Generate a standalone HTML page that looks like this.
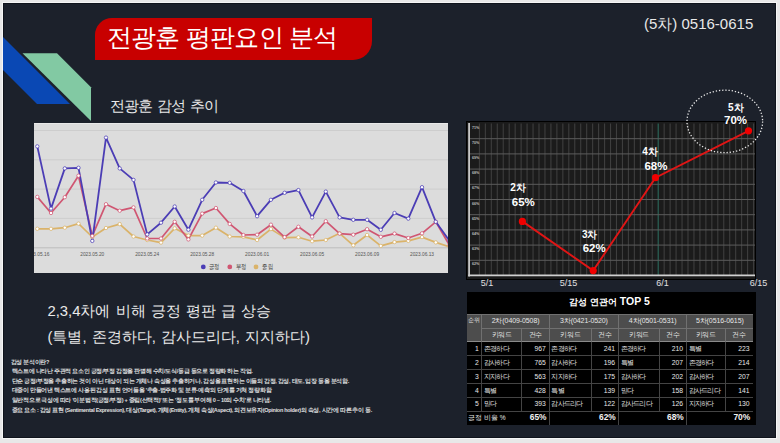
<!DOCTYPE html>
<html><head><meta charset="utf-8">
<style>
*{margin:0;padding:0}
html,body{width:780px;height:443px;overflow:hidden;background:#e8e8e8;font-family:"Liberation Sans",sans-serif}
.a{position:absolute}
#frame{position:absolute;left:3px;top:3px;width:773px;height:435px;background:#1c212b;box-shadow:0 0 0 1px #f6f6f6,inset 0 0 0 1px #10141c;overflow:hidden}
</style></head><body>
<div id="frame">
<svg class="a" style="left:-3px;top:-3px" width="780" height="443">
<polygon points="3,37 70,104 37,104 3,70" fill="#0a48b4"/>
<polygon points="22.5,53.3 57,53.3 91,87.3 91,121" fill="#82c9a3"/>
</svg>
<div class="a" style="left:91.5px;top:15px;width:277px;height:41.5px;background:#c80000;border-radius:17px 0 19px 0"></div>
<div class="a" style="left:103.5px;top:13.5px;font-size:25px;letter-spacing:-0.7px;line-height:40px;color:#fff;white-space:nowrap">전광훈 평판요인 분석</div>
<div class="a" style="left:641px;top:11.7px;font-size:15px;line-height:18px;color:#e8e8e8;white-space:nowrap">(5차) 0516-0615</div>
<div class="a" style="left:106.5px;top:94px;font-size:14.7px;letter-spacing:-0.8px;word-spacing:1.6px;line-height:18px;color:#e8e8e8;white-space:nowrap">전광훈 감성 추이</div>
<div class="a" style="left:31px;top:120px;width:413.5px;height:150px;background:#dcdcdc;overflow:hidden"><svg width="414" height="150" viewBox="0 0 414 150" style="position:absolute;left:0;top:0">
<rect x="0" y="0" width="414" height="1" fill="#e9e9e9"/><line x1="0" x2="414" y1="7.5" y2="7.5" stroke="#c9c9c9" stroke-width="0.8"/><line x1="0" x2="414" y1="36.8" y2="36.8" stroke="#c9c9c9" stroke-width="0.8"/><line x1="0" x2="414" y1="66.1" y2="66.1" stroke="#c9c9c9" stroke-width="0.8"/><line x1="0" x2="414" y1="95.4" y2="95.4" stroke="#c9c9c9" stroke-width="0.8"/><line x1="0" x2="414" y1="124.8" y2="124.8" stroke="#bdbdbd" stroke-width="1"/>
<polyline points="3.3,105.8 17.0,105.8 30.8,104.7 44.5,100.6 58.3,114.0 72.0,105.0 85.7,101.1 99.5,113.5 113.2,117.0 127.0,119.6 140.7,105.3 154.4,112.6 168.2,112.6 181.9,104.7 195.7,113.5 209.4,113.8 223.1,117.0 236.9,106.1 250.6,114.6 264.4,114.3 278.1,118.2 291.8,117.0 305.6,110.3 319.3,122.3 333.1,112.0 346.8,122.9 360.5,119.1 374.3,117.9 388.0,114.1 401.8,119.4 415.5,123.8" fill="none" stroke="#dab36a" stroke-width="1.7" stroke-linejoin="round"/>
<polyline points="3.3,73.9 17.0,90.0 30.8,74.2 44.5,52.7 58.3,112.9 72.0,81.2 85.7,87.7 99.5,84.4 113.2,115.5 127.0,115.5 140.7,98.8 154.4,116.4 168.2,90.6 181.9,85.0 195.7,100.9 209.4,112.0 223.1,111.7 236.9,101.7 250.6,114.1 264.4,103.8 278.1,113.5 291.8,98.2 305.6,110.6 319.3,111.7 333.1,106.2 346.8,113.8 360.5,110.6 374.3,115.0 388.0,110.3 401.8,98.8 415.5,122.3" fill="none" stroke="#d05672" stroke-width="1.7" stroke-linejoin="round"/>
<polyline points="3.3,23.4 17.0,85.6 30.8,45.4 44.5,44.8 58.3,117.9 72.0,14.6 85.7,45.4 99.5,56.9 113.2,111.4 127.0,99.7 140.7,83.5 154.4,106.7 168.2,76.8 181.9,59.5 195.7,59.8 209.4,68.0 223.1,93.2 236.9,76.8 250.6,69.8 264.4,67.1 278.1,94.4 291.8,68.6 305.6,94.4 319.3,96.8 333.1,96.8 346.8,106.8 360.5,90.0 374.3,95.6 388.0,64.2 401.8,98.8 415.5,117.9" fill="none" stroke="#4b3db5" stroke-width="1.8" stroke-linejoin="round"/>
<circle cx="3.3" cy="105.8" r="1.7" fill="#fff" stroke="#dab36a" stroke-width="0.75"/><circle cx="17.0" cy="105.8" r="1.7" fill="#fff" stroke="#dab36a" stroke-width="0.75"/><circle cx="30.8" cy="104.7" r="1.7" fill="#fff" stroke="#dab36a" stroke-width="0.75"/><circle cx="44.5" cy="100.6" r="1.7" fill="#fff" stroke="#dab36a" stroke-width="0.75"/><circle cx="58.3" cy="114.0" r="1.7" fill="#fff" stroke="#dab36a" stroke-width="0.75"/><circle cx="72.0" cy="105.0" r="1.7" fill="#fff" stroke="#dab36a" stroke-width="0.75"/><circle cx="85.7" cy="101.1" r="1.7" fill="#fff" stroke="#dab36a" stroke-width="0.75"/><circle cx="99.5" cy="113.5" r="1.7" fill="#fff" stroke="#dab36a" stroke-width="0.75"/><circle cx="113.2" cy="117.0" r="1.7" fill="#fff" stroke="#dab36a" stroke-width="0.75"/><circle cx="127.0" cy="119.6" r="1.7" fill="#fff" stroke="#dab36a" stroke-width="0.75"/><circle cx="140.7" cy="105.3" r="1.7" fill="#fff" stroke="#dab36a" stroke-width="0.75"/><circle cx="154.4" cy="112.6" r="1.7" fill="#fff" stroke="#dab36a" stroke-width="0.75"/><circle cx="168.2" cy="112.6" r="1.7" fill="#fff" stroke="#dab36a" stroke-width="0.75"/><circle cx="181.9" cy="104.7" r="1.7" fill="#fff" stroke="#dab36a" stroke-width="0.75"/><circle cx="195.7" cy="113.5" r="1.7" fill="#fff" stroke="#dab36a" stroke-width="0.75"/><circle cx="209.4" cy="113.8" r="1.7" fill="#fff" stroke="#dab36a" stroke-width="0.75"/><circle cx="223.1" cy="117.0" r="1.7" fill="#fff" stroke="#dab36a" stroke-width="0.75"/><circle cx="236.9" cy="106.1" r="1.7" fill="#fff" stroke="#dab36a" stroke-width="0.75"/><circle cx="250.6" cy="114.6" r="1.7" fill="#fff" stroke="#dab36a" stroke-width="0.75"/><circle cx="264.4" cy="114.3" r="1.7" fill="#fff" stroke="#dab36a" stroke-width="0.75"/><circle cx="278.1" cy="118.2" r="1.7" fill="#fff" stroke="#dab36a" stroke-width="0.75"/><circle cx="291.8" cy="117.0" r="1.7" fill="#fff" stroke="#dab36a" stroke-width="0.75"/><circle cx="305.6" cy="110.3" r="1.7" fill="#fff" stroke="#dab36a" stroke-width="0.75"/><circle cx="319.3" cy="122.3" r="1.7" fill="#fff" stroke="#dab36a" stroke-width="0.75"/><circle cx="333.1" cy="112.0" r="1.7" fill="#fff" stroke="#dab36a" stroke-width="0.75"/><circle cx="346.8" cy="122.9" r="1.7" fill="#fff" stroke="#dab36a" stroke-width="0.75"/><circle cx="360.5" cy="119.1" r="1.7" fill="#fff" stroke="#dab36a" stroke-width="0.75"/><circle cx="374.3" cy="117.9" r="1.7" fill="#fff" stroke="#dab36a" stroke-width="0.75"/><circle cx="388.0" cy="114.1" r="1.7" fill="#fff" stroke="#dab36a" stroke-width="0.75"/><circle cx="401.8" cy="119.4" r="1.7" fill="#fff" stroke="#dab36a" stroke-width="0.75"/><circle cx="415.5" cy="123.8" r="1.7" fill="#fff" stroke="#dab36a" stroke-width="0.75"/><circle cx="3.3" cy="73.9" r="1.7" fill="#fff" stroke="#d05672" stroke-width="0.75"/><circle cx="17.0" cy="90.0" r="1.7" fill="#fff" stroke="#d05672" stroke-width="0.75"/><circle cx="30.8" cy="74.2" r="1.7" fill="#fff" stroke="#d05672" stroke-width="0.75"/><circle cx="44.5" cy="52.7" r="1.7" fill="#fff" stroke="#d05672" stroke-width="0.75"/><circle cx="58.3" cy="112.9" r="1.7" fill="#fff" stroke="#d05672" stroke-width="0.75"/><circle cx="72.0" cy="81.2" r="1.7" fill="#fff" stroke="#d05672" stroke-width="0.75"/><circle cx="85.7" cy="87.7" r="1.7" fill="#fff" stroke="#d05672" stroke-width="0.75"/><circle cx="99.5" cy="84.4" r="1.7" fill="#fff" stroke="#d05672" stroke-width="0.75"/><circle cx="113.2" cy="115.5" r="1.7" fill="#fff" stroke="#d05672" stroke-width="0.75"/><circle cx="127.0" cy="115.5" r="1.7" fill="#fff" stroke="#d05672" stroke-width="0.75"/><circle cx="140.7" cy="98.8" r="1.7" fill="#fff" stroke="#d05672" stroke-width="0.75"/><circle cx="154.4" cy="116.4" r="1.7" fill="#fff" stroke="#d05672" stroke-width="0.75"/><circle cx="168.2" cy="90.6" r="1.7" fill="#fff" stroke="#d05672" stroke-width="0.75"/><circle cx="181.9" cy="85.0" r="1.7" fill="#fff" stroke="#d05672" stroke-width="0.75"/><circle cx="195.7" cy="100.9" r="1.7" fill="#fff" stroke="#d05672" stroke-width="0.75"/><circle cx="209.4" cy="112.0" r="1.7" fill="#fff" stroke="#d05672" stroke-width="0.75"/><circle cx="223.1" cy="111.7" r="1.7" fill="#fff" stroke="#d05672" stroke-width="0.75"/><circle cx="236.9" cy="101.7" r="1.7" fill="#fff" stroke="#d05672" stroke-width="0.75"/><circle cx="250.6" cy="114.1" r="1.7" fill="#fff" stroke="#d05672" stroke-width="0.75"/><circle cx="264.4" cy="103.8" r="1.7" fill="#fff" stroke="#d05672" stroke-width="0.75"/><circle cx="278.1" cy="113.5" r="1.7" fill="#fff" stroke="#d05672" stroke-width="0.75"/><circle cx="291.8" cy="98.2" r="1.7" fill="#fff" stroke="#d05672" stroke-width="0.75"/><circle cx="305.6" cy="110.6" r="1.7" fill="#fff" stroke="#d05672" stroke-width="0.75"/><circle cx="319.3" cy="111.7" r="1.7" fill="#fff" stroke="#d05672" stroke-width="0.75"/><circle cx="333.1" cy="106.2" r="1.7" fill="#fff" stroke="#d05672" stroke-width="0.75"/><circle cx="346.8" cy="113.8" r="1.7" fill="#fff" stroke="#d05672" stroke-width="0.75"/><circle cx="360.5" cy="110.6" r="1.7" fill="#fff" stroke="#d05672" stroke-width="0.75"/><circle cx="374.3" cy="115.0" r="1.7" fill="#fff" stroke="#d05672" stroke-width="0.75"/><circle cx="388.0" cy="110.3" r="1.7" fill="#fff" stroke="#d05672" stroke-width="0.75"/><circle cx="401.8" cy="98.8" r="1.7" fill="#fff" stroke="#d05672" stroke-width="0.75"/><circle cx="415.5" cy="122.3" r="1.7" fill="#fff" stroke="#d05672" stroke-width="0.75"/><circle cx="3.3" cy="23.4" r="1.7" fill="#fff" stroke="#4b3db5" stroke-width="0.75"/><circle cx="17.0" cy="85.6" r="1.7" fill="#fff" stroke="#4b3db5" stroke-width="0.75"/><circle cx="30.8" cy="45.4" r="1.7" fill="#fff" stroke="#4b3db5" stroke-width="0.75"/><circle cx="44.5" cy="44.8" r="1.7" fill="#fff" stroke="#4b3db5" stroke-width="0.75"/><circle cx="58.3" cy="117.9" r="1.7" fill="#fff" stroke="#4b3db5" stroke-width="0.75"/><circle cx="72.0" cy="14.6" r="1.7" fill="#fff" stroke="#4b3db5" stroke-width="0.75"/><circle cx="85.7" cy="45.4" r="1.7" fill="#fff" stroke="#4b3db5" stroke-width="0.75"/><circle cx="99.5" cy="56.9" r="1.7" fill="#fff" stroke="#4b3db5" stroke-width="0.75"/><circle cx="113.2" cy="111.4" r="1.7" fill="#fff" stroke="#4b3db5" stroke-width="0.75"/><circle cx="127.0" cy="99.7" r="1.7" fill="#fff" stroke="#4b3db5" stroke-width="0.75"/><circle cx="140.7" cy="83.5" r="1.7" fill="#fff" stroke="#4b3db5" stroke-width="0.75"/><circle cx="154.4" cy="106.7" r="1.7" fill="#fff" stroke="#4b3db5" stroke-width="0.75"/><circle cx="168.2" cy="76.8" r="1.7" fill="#fff" stroke="#4b3db5" stroke-width="0.75"/><circle cx="181.9" cy="59.5" r="1.7" fill="#fff" stroke="#4b3db5" stroke-width="0.75"/><circle cx="195.7" cy="59.8" r="1.7" fill="#fff" stroke="#4b3db5" stroke-width="0.75"/><circle cx="209.4" cy="68.0" r="1.7" fill="#fff" stroke="#4b3db5" stroke-width="0.75"/><circle cx="223.1" cy="93.2" r="1.7" fill="#fff" stroke="#4b3db5" stroke-width="0.75"/><circle cx="236.9" cy="76.8" r="1.7" fill="#fff" stroke="#4b3db5" stroke-width="0.75"/><circle cx="250.6" cy="69.8" r="1.7" fill="#fff" stroke="#4b3db5" stroke-width="0.75"/><circle cx="264.4" cy="67.1" r="1.7" fill="#fff" stroke="#4b3db5" stroke-width="0.75"/><circle cx="278.1" cy="94.4" r="1.7" fill="#fff" stroke="#4b3db5" stroke-width="0.75"/><circle cx="291.8" cy="68.6" r="1.7" fill="#fff" stroke="#4b3db5" stroke-width="0.75"/><circle cx="305.6" cy="94.4" r="1.7" fill="#fff" stroke="#4b3db5" stroke-width="0.75"/><circle cx="319.3" cy="96.8" r="1.7" fill="#fff" stroke="#4b3db5" stroke-width="0.75"/><circle cx="333.1" cy="96.8" r="1.7" fill="#fff" stroke="#4b3db5" stroke-width="0.75"/><circle cx="346.8" cy="106.8" r="1.7" fill="#fff" stroke="#4b3db5" stroke-width="0.75"/><circle cx="360.5" cy="90.0" r="1.7" fill="#fff" stroke="#4b3db5" stroke-width="0.75"/><circle cx="374.3" cy="95.6" r="1.7" fill="#fff" stroke="#4b3db5" stroke-width="0.75"/><circle cx="388.0" cy="64.2" r="1.7" fill="#fff" stroke="#4b3db5" stroke-width="0.75"/><circle cx="401.8" cy="98.8" r="1.7" fill="#fff" stroke="#4b3db5" stroke-width="0.75"/><circle cx="415.5" cy="117.9" r="1.7" fill="#fff" stroke="#4b3db5" stroke-width="0.75"/>
<text x="3.3" y="133.2" text-anchor="middle" font-size="4.8" fill="#555">2023.05.16</text><text x="58.3" y="133.2" text-anchor="middle" font-size="4.8" fill="#555">2023.05.20</text><text x="113.2" y="133.2" text-anchor="middle" font-size="4.8" fill="#555">2023.05.24</text><text x="168.2" y="133.2" text-anchor="middle" font-size="4.8" fill="#555">2023.05.28</text><text x="223.1" y="133.2" text-anchor="middle" font-size="4.8" fill="#555">2023.06.01</text><text x="278.1" y="133.2" text-anchor="middle" font-size="4.8" fill="#555">2023.06.05</text><text x="333.1" y="133.2" text-anchor="middle" font-size="4.8" fill="#555">2023.06.09</text><text x="388.0" y="133.2" text-anchor="middle" font-size="4.8" fill="#555">2023.06.13</text><circle cx="169.3" cy="143.89999999999998" r="2.4" fill="#4b3db5"/><text x="175" y="146.2" font-size="6.6" fill="#3a3a3a" textLength="10.6" lengthAdjust="spacingAndGlyphs">긍정</text><circle cx="195.8" cy="143.89999999999998" r="2.4" fill="#d05672"/><text x="201.6" y="146.2" font-size="6.6" fill="#3a3a3a" textLength="10.6" lengthAdjust="spacingAndGlyphs">부정</text><circle cx="222" cy="143.89999999999998" r="2.4" fill="#dab36a"/><text x="228.3" y="146.2" font-size="6.6" fill="#3a3a3a" textLength="10.6" lengthAdjust="spacingAndGlyphs">중립</text>
</svg></div>
<div class="a" style="left:464px;top:118.5px;width:287.5px;height:157px;background:#1b1b1b;box-shadow:0 0 0 1px #000;overflow:visible"><svg width="287.5" height="157" viewBox="0 0 287.5 157" style="position:absolute;left:0;top:0">
<line x1="12.40" x2="12.40" y1="1.5" y2="153.5" stroke="#3e3e3e" stroke-width="1.1"/><line x1="18.36" x2="18.36" y1="1.5" y2="153.5" stroke="#3e3e3e" stroke-width="1.1"/><line x1="24.32" x2="24.32" y1="1.5" y2="153.5" stroke="#3e3e3e" stroke-width="1.1"/><line x1="30.28" x2="30.28" y1="1.5" y2="153.5" stroke="#3e3e3e" stroke-width="1.1"/><line x1="36.24" x2="36.24" y1="1.5" y2="153.5" stroke="#3e3e3e" stroke-width="1.1"/><line x1="42.20" x2="42.20" y1="1.5" y2="153.5" stroke="#3e3e3e" stroke-width="1.1"/><line x1="48.16" x2="48.16" y1="1.5" y2="153.5" stroke="#3e3e3e" stroke-width="1.1"/><line x1="54.12" x2="54.12" y1="1.5" y2="153.5" stroke="#3e3e3e" stroke-width="1.1"/><line x1="60.08" x2="60.08" y1="1.5" y2="153.5" stroke="#3e3e3e" stroke-width="1.1"/><line x1="66.04" x2="66.04" y1="1.5" y2="153.5" stroke="#3e3e3e" stroke-width="1.1"/><line x1="72.00" x2="72.00" y1="1.5" y2="153.5" stroke="#3e3e3e" stroke-width="1.1"/><line x1="77.96" x2="77.96" y1="1.5" y2="153.5" stroke="#3e3e3e" stroke-width="1.1"/><line x1="83.92" x2="83.92" y1="1.5" y2="153.5" stroke="#3e3e3e" stroke-width="1.1"/><line x1="89.88" x2="89.88" y1="1.5" y2="153.5" stroke="#3e3e3e" stroke-width="1.1"/><line x1="95.84" x2="95.84" y1="1.5" y2="153.5" stroke="#3e3e3e" stroke-width="1.1"/><line x1="101.80" x2="101.80" y1="1.5" y2="153.5" stroke="#3e3e3e" stroke-width="1.1"/><line x1="107.76" x2="107.76" y1="1.5" y2="153.5" stroke="#3e3e3e" stroke-width="1.1"/><line x1="113.72" x2="113.72" y1="1.5" y2="153.5" stroke="#3e3e3e" stroke-width="1.1"/><line x1="119.68" x2="119.68" y1="1.5" y2="153.5" stroke="#3e3e3e" stroke-width="1.1"/><line x1="125.64" x2="125.64" y1="1.5" y2="153.5" stroke="#3e3e3e" stroke-width="1.1"/><line x1="131.60" x2="131.60" y1="1.5" y2="153.5" stroke="#3e3e3e" stroke-width="1.1"/><line x1="137.56" x2="137.56" y1="1.5" y2="153.5" stroke="#3e3e3e" stroke-width="1.1"/><line x1="143.52" x2="143.52" y1="1.5" y2="153.5" stroke="#3e3e3e" stroke-width="1.1"/><line x1="149.48" x2="149.48" y1="1.5" y2="153.5" stroke="#3e3e3e" stroke-width="1.1"/><line x1="155.44" x2="155.44" y1="1.5" y2="153.5" stroke="#3e3e3e" stroke-width="1.1"/><line x1="161.40" x2="161.40" y1="1.5" y2="153.5" stroke="#3e3e3e" stroke-width="1.1"/><line x1="167.36" x2="167.36" y1="1.5" y2="153.5" stroke="#3e3e3e" stroke-width="1.1"/><line x1="173.32" x2="173.32" y1="1.5" y2="153.5" stroke="#3e3e3e" stroke-width="1.1"/><line x1="179.28" x2="179.28" y1="1.5" y2="153.5" stroke="#3e3e3e" stroke-width="1.1"/><line x1="185.24" x2="185.24" y1="1.5" y2="153.5" stroke="#3e3e3e" stroke-width="1.1"/><line x1="191.20" x2="191.20" y1="1.5" y2="153.5" stroke="#2c6a5c" stroke-width="1.1"/><line x1="197.16" x2="197.16" y1="1.5" y2="153.5" stroke="#3e3e3e" stroke-width="1.1"/><line x1="203.12" x2="203.12" y1="1.5" y2="153.5" stroke="#3e3e3e" stroke-width="1.1"/><line x1="209.08" x2="209.08" y1="1.5" y2="153.5" stroke="#3e3e3e" stroke-width="1.1"/><line x1="215.04" x2="215.04" y1="1.5" y2="153.5" stroke="#3e3e3e" stroke-width="1.1"/><line x1="221.00" x2="221.00" y1="1.5" y2="153.5" stroke="#3e3e3e" stroke-width="1.1"/><line x1="226.96" x2="226.96" y1="1.5" y2="153.5" stroke="#3e3e3e" stroke-width="1.1"/><line x1="232.92" x2="232.92" y1="1.5" y2="153.5" stroke="#3e3e3e" stroke-width="1.1"/><line x1="238.88" x2="238.88" y1="1.5" y2="153.5" stroke="#3e3e3e" stroke-width="1.1"/><line x1="244.84" x2="244.84" y1="1.5" y2="153.5" stroke="#3e3e3e" stroke-width="1.1"/><line x1="250.80" x2="250.80" y1="1.5" y2="153.5" stroke="#3e3e3e" stroke-width="1.1"/><line x1="256.76" x2="256.76" y1="1.5" y2="153.5" stroke="#3e3e3e" stroke-width="1.1"/><line x1="262.72" x2="262.72" y1="1.5" y2="153.5" stroke="#3e3e3e" stroke-width="1.1"/><line x1="268.68" x2="268.68" y1="1.5" y2="153.5" stroke="#3e3e3e" stroke-width="1.1"/><line x1="274.64" x2="274.64" y1="1.5" y2="153.5" stroke="#3e3e3e" stroke-width="1.1"/><line x1="280.60" x2="280.60" y1="1.5" y2="153.5" stroke="#3e3e3e" stroke-width="1.1"/><line x1="286.56" x2="286.56" y1="1.5" y2="153.5" stroke="#3e3e3e" stroke-width="1.1"/><line x1="2" x2="288" y1="16.70" y2="16.70" stroke="#5c5c5c" stroke-width="1"/><line x1="2" x2="288" y1="31.90" y2="31.90" stroke="#5c5c5c" stroke-width="1"/><line x1="2" x2="288" y1="47.10" y2="47.10" stroke="#5c5c5c" stroke-width="1"/><line x1="2" x2="288" y1="62.30" y2="62.30" stroke="#5c5c5c" stroke-width="1"/><line x1="2" x2="288" y1="77.50" y2="77.50" stroke="#5c5c5c" stroke-width="1"/><line x1="2" x2="288" y1="92.70" y2="92.70" stroke="#5c5c5c" stroke-width="1"/><line x1="2" x2="288" y1="107.90" y2="107.90" stroke="#5c5c5c" stroke-width="1"/><line x1="2" x2="288" y1="123.10" y2="123.10" stroke="#5c5c5c" stroke-width="1"/><line x1="2" x2="288" y1="138.30" y2="138.30" stroke="#5c5c5c" stroke-width="1"/><text x="5" y="6.50" font-size="3.6" fill="#bbb" font-weight="bold">71%</text><text x="5" y="21.70" font-size="3.6" fill="#bbb" font-weight="bold">70%</text><text x="5" y="36.90" font-size="3.6" fill="#bbb" font-weight="bold">69%</text><text x="5" y="52.10" font-size="3.6" fill="#bbb" font-weight="bold">68%</text><text x="5" y="67.30" font-size="3.6" fill="#bbb" font-weight="bold">67%</text><text x="5" y="82.50" font-size="3.6" fill="#bbb" font-weight="bold">66%</text><text x="5" y="97.70" font-size="3.6" fill="#bbb" font-weight="bold">65%</text><text x="5" y="112.90" font-size="3.6" fill="#bbb" font-weight="bold">64%</text><text x="5" y="128.10" font-size="3.6" fill="#bbb" font-weight="bold">63%</text><text x="5" y="143.30" font-size="3.6" fill="#bbb" font-weight="bold">62%</text><line x1="2.1000000000000227" x2="2.1000000000000227" y1="1.0" y2="154.5" stroke="#c8c8c8" stroke-width="1.8"/><line x1="1.1999999999999886" x2="288" y1="153.39999999999998" y2="153.39999999999998" stroke="#d0d0d0" stroke-width="1.8"/>
<polyline points="55.4,99.4 126.2,148.6 188.5,55.7 281.5,8.8" fill="none" stroke="#e01515" stroke-width="1.9"/>
<circle cx="55.4" cy="99.4" r="3.6" fill="#f00000"/><circle cx="126.2" cy="148.6" r="3.6" fill="#f00000"/><circle cx="188.5" cy="55.7" r="3.6" fill="#f00000"/><circle cx="281.5" cy="8.8" r="3.6" fill="#f00000"/>
</svg></div>
<svg class="a" style="left:-3px;top:-3px;overflow:visible" width="780" height="443">
<ellipse cx="724.8" cy="121.4" rx="37.8" ry="31.2" fill="none" stroke="#e8e8e8" stroke-width="1.3" stroke-dasharray="1.3 1.9"/>
<g font-weight="bold" fill="#fff" text-anchor="middle">
<text x="518" y="191" font-size="10">2차</text><text x="523.3" y="206" font-size="11.5">65%</text>
<text x="589.7" y="237.5" font-size="10">3차</text><text x="594.2" y="252.3" font-size="11.5">62%</text>
<text x="650.1" y="155" font-size="10">4차</text><text x="655.9" y="170.4" font-size="11.5">68%</text>
<text x="735.8" y="110.5" font-size="10">5차</text><text x="735.6" y="123.7" font-size="11.5">70%</text>
</g>
<g fill="#e0e0e0" font-size="9" text-anchor="middle">
<text x="487" y="286.3">5/1</text><text x="568.5" y="286.3">5/15</text><text x="662.4" y="286.3">6/1</text><text x="758.6" y="286.3">6/15</text>
</g>
</svg>
<div class="a" style="left:463.5px;top:289px;width:289px;height:133px;background:#000">
<div class="a" style="left:-1.5px;top:-1px;width:289px;height:21.8px;line-height:21.8px;text-align:center;color:#fff;font-weight:bold;font-size:10.5px"><span style="font-size:9.4px">감성 연관어</span> TOP 5</div>
<div style="position:absolute;left:0.0px;top:21.8px;width:286.5px;height:28.0px;background:#4d4d4d;"></div><div style="position:absolute;left:0.0px;top:21.8px;width:286.5px;height:1.0px;background:#707070;"></div><div style="position:absolute;left:15.3px;top:36.0px;width:271.2px;height:1.0px;background:#707070;"></div><div style="position:absolute;left:0.0px;top:48.8px;width:286.5px;height:1.5px;background:#8a8a8a;"></div><div style="position:absolute;left:14.8px;top:21.8px;width:1.0px;height:28.0px;background:#707070;"></div><div style="position:absolute;left:82.3px;top:21.8px;width:1.0px;height:28.0px;background:#707070;"></div><div style="position:absolute;left:151.6px;top:21.8px;width:1.0px;height:28.0px;background:#707070;"></div><div style="position:absolute;left:219.6px;top:21.8px;width:1.0px;height:28.0px;background:#707070;"></div><div style="position:absolute;left:54.5px;top:36.0px;width:1.0px;height:13.8px;background:#707070;"></div><div style="position:absolute;left:124.2px;top:36.0px;width:1.0px;height:13.8px;background:#707070;"></div><div style="position:absolute;left:192.3px;top:36.0px;width:1.0px;height:13.8px;background:#707070;"></div><div style="position:absolute;left:258.0px;top:36.0px;width:1.0px;height:13.8px;background:#707070;"></div><div style="position:absolute;left:0.0px;top:21.8px;width:15.3px;height:12.0px;line-height:12.0px;text-align:center;font-size:6px;color:#e6e6e6;font-weight:normal;letter-spacing:0px;padding:0 0px;box-sizing:border-box;white-space:nowrap;overflow:hidden">순위</div><div style="position:absolute;left:15.3px;top:21.8px;width:67.5px;height:14.2px;line-height:14.2px;text-align:center;font-size:7px;color:#e6e6e6;font-weight:normal;letter-spacing:-0.1px;padding:0 1.5px;box-sizing:border-box;white-space:nowrap;overflow:hidden">2차(0409-0508)</div><div style="position:absolute;left:15.3px;top:36.0px;width:39.7px;height:13.8px;line-height:13.8px;text-align:center;font-size:6.8px;color:#e6e6e6;font-weight:normal;letter-spacing:-0.3px;padding:0 1.5px;box-sizing:border-box;white-space:nowrap;overflow:hidden">키워드</div><div style="position:absolute;left:55.0px;top:36.0px;width:27.8px;height:13.8px;line-height:13.8px;text-align:center;font-size:6.8px;color:#e6e6e6;font-weight:normal;letter-spacing:-0.3px;padding:0 1.5px;box-sizing:border-box;white-space:nowrap;overflow:hidden">건수</div><div style="position:absolute;left:82.8px;top:21.8px;width:69.3px;height:14.2px;line-height:14.2px;text-align:center;font-size:7px;color:#e6e6e6;font-weight:normal;letter-spacing:-0.1px;padding:0 1.5px;box-sizing:border-box;white-space:nowrap;overflow:hidden">3차(0421-0520)</div><div style="position:absolute;left:82.8px;top:36.0px;width:41.9px;height:13.8px;line-height:13.8px;text-align:center;font-size:6.8px;color:#e6e6e6;font-weight:normal;letter-spacing:-0.3px;padding:0 1.5px;box-sizing:border-box;white-space:nowrap;overflow:hidden">키워드</div><div style="position:absolute;left:124.7px;top:36.0px;width:27.4px;height:13.8px;line-height:13.8px;text-align:center;font-size:6.8px;color:#e6e6e6;font-weight:normal;letter-spacing:-0.3px;padding:0 1.5px;box-sizing:border-box;white-space:nowrap;overflow:hidden">건수</div><div style="position:absolute;left:152.1px;top:21.8px;width:68.0px;height:14.2px;line-height:14.2px;text-align:center;font-size:7px;color:#e6e6e6;font-weight:normal;letter-spacing:-0.1px;padding:0 1.5px;box-sizing:border-box;white-space:nowrap;overflow:hidden">4차(0501-0531)</div><div style="position:absolute;left:152.1px;top:36.0px;width:40.7px;height:13.8px;line-height:13.8px;text-align:center;font-size:6.8px;color:#e6e6e6;font-weight:normal;letter-spacing:-0.3px;padding:0 1.5px;box-sizing:border-box;white-space:nowrap;overflow:hidden">키워드</div><div style="position:absolute;left:192.8px;top:36.0px;width:27.3px;height:13.8px;line-height:13.8px;text-align:center;font-size:6.8px;color:#e6e6e6;font-weight:normal;letter-spacing:-0.3px;padding:0 1.5px;box-sizing:border-box;white-space:nowrap;overflow:hidden">건수</div><div style="position:absolute;left:220.1px;top:21.8px;width:66.4px;height:14.2px;line-height:14.2px;text-align:center;font-size:7px;color:#e6e6e6;font-weight:normal;letter-spacing:-0.1px;padding:0 1.5px;box-sizing:border-box;white-space:nowrap;overflow:hidden">5차(0516-0615)</div><div style="position:absolute;left:220.1px;top:36.0px;width:38.4px;height:13.8px;line-height:13.8px;text-align:center;font-size:6.8px;color:#e6e6e6;font-weight:normal;letter-spacing:-0.3px;padding:0 1.5px;box-sizing:border-box;white-space:nowrap;overflow:hidden">키워드</div><div style="position:absolute;left:258.5px;top:36.0px;width:28.0px;height:13.8px;line-height:13.8px;text-align:center;font-size:6.8px;color:#e6e6e6;font-weight:normal;letter-spacing:-0.3px;padding:0 1.5px;box-sizing:border-box;white-space:nowrap;overflow:hidden">건수</div><div style="position:absolute;left:0.0px;top:63.3px;width:286.5px;height:1.0px;background:#444;"></div><div style="position:absolute;left:0.0px;top:77.1px;width:286.5px;height:1.0px;background:#444;"></div><div style="position:absolute;left:0.0px;top:91.0px;width:286.5px;height:1.0px;background:#444;"></div><div style="position:absolute;left:0.0px;top:104.8px;width:286.5px;height:1.0px;background:#444;"></div><div style="position:absolute;left:0.0px;top:118.6px;width:286.5px;height:1.0px;background:#444;"></div><div style="position:absolute;left:14.8px;top:49.8px;width:1.0px;height:69.3px;background:#444;"></div><div style="position:absolute;left:54.5px;top:49.8px;width:1.0px;height:69.3px;background:#444;"></div><div style="position:absolute;left:82.3px;top:49.8px;width:1.0px;height:69.3px;background:#444;"></div><div style="position:absolute;left:124.2px;top:49.8px;width:1.0px;height:69.3px;background:#444;"></div><div style="position:absolute;left:151.6px;top:49.8px;width:1.0px;height:69.3px;background:#444;"></div><div style="position:absolute;left:192.3px;top:49.8px;width:1.0px;height:69.3px;background:#444;"></div><div style="position:absolute;left:219.6px;top:49.8px;width:1.0px;height:69.3px;background:#444;"></div><div style="position:absolute;left:258.0px;top:49.8px;width:1.0px;height:69.3px;background:#444;"></div><div style="position:absolute;left:82.3px;top:119.1px;width:1.0px;height:13.9px;background:#444;"></div><div style="position:absolute;left:151.6px;top:119.1px;width:1.0px;height:13.9px;background:#444;"></div><div style="position:absolute;left:219.6px;top:119.1px;width:1.0px;height:13.9px;background:#444;"></div><div style="position:absolute;left:0.0px;top:49.8px;width:15.3px;height:14.0px;line-height:14.0px;text-align:right;font-size:6.8px;color:#e6e6e6;font-weight:normal;letter-spacing:0px;padding:0 3px;box-sizing:border-box;white-space:nowrap;overflow:hidden">1</div><div style="position:absolute;left:15.3px;top:49.8px;width:39.7px;height:14.0px;line-height:14.0px;text-align:left;font-size:6.8px;color:#e6e6e6;font-weight:normal;letter-spacing:-0.7px;padding:0 2px;box-sizing:border-box;white-space:nowrap;overflow:hidden">존경하다</div><div style="position:absolute;left:55.0px;top:49.8px;width:27.8px;height:14.0px;line-height:14.0px;text-align:right;font-size:6.8px;color:#e6e6e6;font-weight:normal;letter-spacing:0px;padding:0 3.5px;box-sizing:border-box;white-space:nowrap;overflow:hidden">967</div><div style="position:absolute;left:82.8px;top:49.8px;width:41.9px;height:14.0px;line-height:14.0px;text-align:left;font-size:6.8px;color:#e6e6e6;font-weight:normal;letter-spacing:-0.7px;padding:0 2px;box-sizing:border-box;white-space:nowrap;overflow:hidden">존경하다</div><div style="position:absolute;left:124.7px;top:49.8px;width:27.4px;height:14.0px;line-height:14.0px;text-align:right;font-size:6.8px;color:#e6e6e6;font-weight:normal;letter-spacing:0px;padding:0 3.5px;box-sizing:border-box;white-space:nowrap;overflow:hidden">241</div><div style="position:absolute;left:152.1px;top:49.8px;width:40.7px;height:14.0px;line-height:14.0px;text-align:left;font-size:6.8px;color:#e6e6e6;font-weight:normal;letter-spacing:-0.7px;padding:0 2px;box-sizing:border-box;white-space:nowrap;overflow:hidden">존경하다</div><div style="position:absolute;left:192.8px;top:49.8px;width:27.3px;height:14.0px;line-height:14.0px;text-align:right;font-size:6.8px;color:#e6e6e6;font-weight:normal;letter-spacing:0px;padding:0 3.5px;box-sizing:border-box;white-space:nowrap;overflow:hidden">210</div><div style="position:absolute;left:220.1px;top:49.8px;width:38.4px;height:14.0px;line-height:14.0px;text-align:left;font-size:6.8px;color:#e6e6e6;font-weight:normal;letter-spacing:-0.7px;padding:0 2px;box-sizing:border-box;white-space:nowrap;overflow:hidden">특별</div><div style="position:absolute;left:258.5px;top:49.8px;width:28.0px;height:14.0px;line-height:14.0px;text-align:right;font-size:6.8px;color:#e6e6e6;font-weight:normal;letter-spacing:0px;padding:0 3.5px;box-sizing:border-box;white-space:nowrap;overflow:hidden">223</div><div style="position:absolute;left:0.0px;top:63.8px;width:15.3px;height:13.8px;line-height:13.8px;text-align:right;font-size:6.8px;color:#e6e6e6;font-weight:normal;letter-spacing:0px;padding:0 3px;box-sizing:border-box;white-space:nowrap;overflow:hidden">2</div><div style="position:absolute;left:15.3px;top:63.8px;width:39.7px;height:13.8px;line-height:13.8px;text-align:left;font-size:6.8px;color:#e6e6e6;font-weight:normal;letter-spacing:-0.7px;padding:0 2px;box-sizing:border-box;white-space:nowrap;overflow:hidden">감사하다</div><div style="position:absolute;left:55.0px;top:63.8px;width:27.8px;height:13.8px;line-height:13.8px;text-align:right;font-size:6.8px;color:#e6e6e6;font-weight:normal;letter-spacing:0px;padding:0 3.5px;box-sizing:border-box;white-space:nowrap;overflow:hidden">765</div><div style="position:absolute;left:82.8px;top:63.8px;width:41.9px;height:13.8px;line-height:13.8px;text-align:left;font-size:6.8px;color:#e6e6e6;font-weight:normal;letter-spacing:-0.7px;padding:0 2px;box-sizing:border-box;white-space:nowrap;overflow:hidden">감사하다</div><div style="position:absolute;left:124.7px;top:63.8px;width:27.4px;height:13.8px;line-height:13.8px;text-align:right;font-size:6.8px;color:#e6e6e6;font-weight:normal;letter-spacing:0px;padding:0 3.5px;box-sizing:border-box;white-space:nowrap;overflow:hidden">196</div><div style="position:absolute;left:152.1px;top:63.8px;width:40.7px;height:13.8px;line-height:13.8px;text-align:left;font-size:6.8px;color:#e6e6e6;font-weight:normal;letter-spacing:-0.7px;padding:0 2px;box-sizing:border-box;white-space:nowrap;overflow:hidden">특별</div><div style="position:absolute;left:192.8px;top:63.8px;width:27.3px;height:13.8px;line-height:13.8px;text-align:right;font-size:6.8px;color:#e6e6e6;font-weight:normal;letter-spacing:0px;padding:0 3.5px;box-sizing:border-box;white-space:nowrap;overflow:hidden">207</div><div style="position:absolute;left:220.1px;top:63.8px;width:38.4px;height:13.8px;line-height:13.8px;text-align:left;font-size:6.8px;color:#e6e6e6;font-weight:normal;letter-spacing:-0.7px;padding:0 2px;box-sizing:border-box;white-space:nowrap;overflow:hidden">존경하다</div><div style="position:absolute;left:258.5px;top:63.8px;width:28.0px;height:13.8px;line-height:13.8px;text-align:right;font-size:6.8px;color:#e6e6e6;font-weight:normal;letter-spacing:0px;padding:0 3.5px;box-sizing:border-box;white-space:nowrap;overflow:hidden">214</div><div style="position:absolute;left:0.0px;top:77.6px;width:15.3px;height:13.9px;line-height:13.9px;text-align:right;font-size:6.8px;color:#e6e6e6;font-weight:normal;letter-spacing:0px;padding:0 3px;box-sizing:border-box;white-space:nowrap;overflow:hidden">3</div><div style="position:absolute;left:15.3px;top:77.6px;width:39.7px;height:13.9px;line-height:13.9px;text-align:left;font-size:6.8px;color:#e6e6e6;font-weight:normal;letter-spacing:-0.7px;padding:0 2px;box-sizing:border-box;white-space:nowrap;overflow:hidden">지지하다</div><div style="position:absolute;left:55.0px;top:77.6px;width:27.8px;height:13.9px;line-height:13.9px;text-align:right;font-size:6.8px;color:#e6e6e6;font-weight:normal;letter-spacing:0px;padding:0 3.5px;box-sizing:border-box;white-space:nowrap;overflow:hidden">563</div><div style="position:absolute;left:82.8px;top:77.6px;width:41.9px;height:13.9px;line-height:13.9px;text-align:left;font-size:6.8px;color:#e6e6e6;font-weight:normal;letter-spacing:-0.7px;padding:0 2px;box-sizing:border-box;white-space:nowrap;overflow:hidden">지지하다</div><div style="position:absolute;left:124.7px;top:77.6px;width:27.4px;height:13.9px;line-height:13.9px;text-align:right;font-size:6.8px;color:#e6e6e6;font-weight:normal;letter-spacing:0px;padding:0 3.5px;box-sizing:border-box;white-space:nowrap;overflow:hidden">175</div><div style="position:absolute;left:152.1px;top:77.6px;width:40.7px;height:13.9px;line-height:13.9px;text-align:left;font-size:6.8px;color:#e6e6e6;font-weight:normal;letter-spacing:-0.7px;padding:0 2px;box-sizing:border-box;white-space:nowrap;overflow:hidden">감사하다</div><div style="position:absolute;left:192.8px;top:77.6px;width:27.3px;height:13.9px;line-height:13.9px;text-align:right;font-size:6.8px;color:#e6e6e6;font-weight:normal;letter-spacing:0px;padding:0 3.5px;box-sizing:border-box;white-space:nowrap;overflow:hidden">202</div><div style="position:absolute;left:220.1px;top:77.6px;width:38.4px;height:13.9px;line-height:13.9px;text-align:left;font-size:6.8px;color:#e6e6e6;font-weight:normal;letter-spacing:-0.7px;padding:0 2px;box-sizing:border-box;white-space:nowrap;overflow:hidden">감사하다</div><div style="position:absolute;left:258.5px;top:77.6px;width:28.0px;height:13.9px;line-height:13.9px;text-align:right;font-size:6.8px;color:#e6e6e6;font-weight:normal;letter-spacing:0px;padding:0 3.5px;box-sizing:border-box;white-space:nowrap;overflow:hidden">207</div><div style="position:absolute;left:0.0px;top:91.5px;width:15.3px;height:13.8px;line-height:13.8px;text-align:right;font-size:6.8px;color:#e6e6e6;font-weight:normal;letter-spacing:0px;padding:0 3px;box-sizing:border-box;white-space:nowrap;overflow:hidden">4</div><div style="position:absolute;left:15.3px;top:91.5px;width:39.7px;height:13.8px;line-height:13.8px;text-align:left;font-size:6.8px;color:#e6e6e6;font-weight:normal;letter-spacing:-0.7px;padding:0 2px;box-sizing:border-box;white-space:nowrap;overflow:hidden">특별</div><div style="position:absolute;left:55.0px;top:91.5px;width:27.8px;height:13.8px;line-height:13.8px;text-align:right;font-size:6.8px;color:#e6e6e6;font-weight:normal;letter-spacing:0px;padding:0 3.5px;box-sizing:border-box;white-space:nowrap;overflow:hidden">428</div><div style="position:absolute;left:82.8px;top:91.5px;width:41.9px;height:13.8px;line-height:13.8px;text-align:left;font-size:6.8px;color:#e6e6e6;font-weight:normal;letter-spacing:-0.7px;padding:0 2px;box-sizing:border-box;white-space:nowrap;overflow:hidden">특별</div><div style="position:absolute;left:124.7px;top:91.5px;width:27.4px;height:13.8px;line-height:13.8px;text-align:right;font-size:6.8px;color:#e6e6e6;font-weight:normal;letter-spacing:0px;padding:0 3.5px;box-sizing:border-box;white-space:nowrap;overflow:hidden">139</div><div style="position:absolute;left:152.1px;top:91.5px;width:40.7px;height:13.8px;line-height:13.8px;text-align:left;font-size:6.8px;color:#e6e6e6;font-weight:normal;letter-spacing:-0.7px;padding:0 2px;box-sizing:border-box;white-space:nowrap;overflow:hidden">믿다</div><div style="position:absolute;left:192.8px;top:91.5px;width:27.3px;height:13.8px;line-height:13.8px;text-align:right;font-size:6.8px;color:#e6e6e6;font-weight:normal;letter-spacing:0px;padding:0 3.5px;box-sizing:border-box;white-space:nowrap;overflow:hidden">158</div><div style="position:absolute;left:220.1px;top:91.5px;width:38.4px;height:13.8px;line-height:13.8px;text-align:left;font-size:6.8px;color:#e6e6e6;font-weight:normal;letter-spacing:-0.7px;padding:0 2px;box-sizing:border-box;white-space:nowrap;overflow:hidden">감사드리다</div><div style="position:absolute;left:258.5px;top:91.5px;width:28.0px;height:13.8px;line-height:13.8px;text-align:right;font-size:6.8px;color:#e6e6e6;font-weight:normal;letter-spacing:0px;padding:0 3.5px;box-sizing:border-box;white-space:nowrap;overflow:hidden">141</div><div style="position:absolute;left:0.0px;top:105.3px;width:15.3px;height:13.8px;line-height:13.8px;text-align:right;font-size:6.8px;color:#e6e6e6;font-weight:normal;letter-spacing:0px;padding:0 3px;box-sizing:border-box;white-space:nowrap;overflow:hidden">5</div><div style="position:absolute;left:15.3px;top:105.3px;width:39.7px;height:13.8px;line-height:13.8px;text-align:left;font-size:6.8px;color:#e6e6e6;font-weight:normal;letter-spacing:-0.7px;padding:0 2px;box-sizing:border-box;white-space:nowrap;overflow:hidden">믿다</div><div style="position:absolute;left:55.0px;top:105.3px;width:27.8px;height:13.8px;line-height:13.8px;text-align:right;font-size:6.8px;color:#e6e6e6;font-weight:normal;letter-spacing:0px;padding:0 3.5px;box-sizing:border-box;white-space:nowrap;overflow:hidden">393</div><div style="position:absolute;left:82.8px;top:105.3px;width:41.9px;height:13.8px;line-height:13.8px;text-align:left;font-size:6.8px;color:#e6e6e6;font-weight:normal;letter-spacing:-0.7px;padding:0 2px;box-sizing:border-box;white-space:nowrap;overflow:hidden">감사드리다</div><div style="position:absolute;left:124.7px;top:105.3px;width:27.4px;height:13.8px;line-height:13.8px;text-align:right;font-size:6.8px;color:#e6e6e6;font-weight:normal;letter-spacing:0px;padding:0 3.5px;box-sizing:border-box;white-space:nowrap;overflow:hidden">122</div><div style="position:absolute;left:152.1px;top:105.3px;width:40.7px;height:13.8px;line-height:13.8px;text-align:left;font-size:6.8px;color:#e6e6e6;font-weight:normal;letter-spacing:-0.7px;padding:0 2px;box-sizing:border-box;white-space:nowrap;overflow:hidden">감사드리다</div><div style="position:absolute;left:192.8px;top:105.3px;width:27.3px;height:13.8px;line-height:13.8px;text-align:right;font-size:6.8px;color:#e6e6e6;font-weight:normal;letter-spacing:0px;padding:0 3.5px;box-sizing:border-box;white-space:nowrap;overflow:hidden">126</div><div style="position:absolute;left:220.1px;top:105.3px;width:38.4px;height:13.8px;line-height:13.8px;text-align:left;font-size:6.8px;color:#e6e6e6;font-weight:normal;letter-spacing:-0.7px;padding:0 2px;box-sizing:border-box;white-space:nowrap;overflow:hidden">지지하다</div><div style="position:absolute;left:258.5px;top:105.3px;width:28.0px;height:13.8px;line-height:13.8px;text-align:right;font-size:6.8px;color:#e6e6e6;font-weight:normal;letter-spacing:0px;padding:0 3.5px;box-sizing:border-box;white-space:nowrap;overflow:hidden">130</div><div style="position:absolute;left:0.0px;top:119.1px;width:55.0px;height:13.9px;line-height:13.9px;text-align:left;font-size:6.6px;color:#e6e6e6;font-weight:normal;letter-spacing:0px;padding:0 1.5px;box-sizing:border-box;white-space:nowrap;overflow:hidden">긍정 비율 %</div><div style="position:absolute;left:55.0px;top:119.1px;width:27.8px;height:13.9px;line-height:13.9px;text-align:right;font-size:8.4px;color:#f2f2f2;font-weight:bold;letter-spacing:0px;padding:0 2.8px;box-sizing:border-box;white-space:nowrap;overflow:hidden">65%</div><div style="position:absolute;left:82.8px;top:119.1px;width:69.3px;height:13.9px;line-height:13.9px;text-align:right;font-size:8.4px;color:#f2f2f2;font-weight:bold;letter-spacing:0px;padding:0 2.8px;box-sizing:border-box;white-space:nowrap;overflow:hidden">62%</div><div style="position:absolute;left:152.1px;top:119.1px;width:68.0px;height:13.9px;line-height:13.9px;text-align:right;font-size:8.4px;color:#f2f2f2;font-weight:bold;letter-spacing:0px;padding:0 2.8px;box-sizing:border-box;white-space:nowrap;overflow:hidden">68%</div><div style="position:absolute;left:220.1px;top:119.1px;width:66.4px;height:13.9px;line-height:13.9px;text-align:right;font-size:8.4px;color:#f2f2f2;font-weight:bold;letter-spacing:0px;padding:0 2.8px;box-sizing:border-box;white-space:nowrap;overflow:hidden">70%</div>
</div>
<div class="a" style="left:44.5px;top:296px;font-size:14.8px;word-spacing:1px;line-height:25.5px;color:#eaeaea;white-space:nowrap">2,3,4차에 비해 긍정 평판 급 상승<br>(특별, 존경하다, 감사드리다, 지지하다)</div>
<div class="a" style="left:7.5px;top:354.5px;font-size:5.5px;letter-spacing:-0.3px;line-height:9.62px;color:#e0e0e0;white-space:nowrap;font-weight:bold">
<div>감성 분석이란?</div>
<div>&nbsp;텍스트에 나타난 주관적 요소인 긍정/부정 감정을 판별해 수치/도식/등급 등으로 정량화 하는 작업.</div>
<div>&nbsp;단순 긍정/부정을 추출하는 것이 아닌 대상이 되는 개체나 속성을 추출하거나, 감성을 표현하는 이들의 감정, 감성, 태도, 입장 등을 분석함.</div>
<div>&nbsp;대중이 만들어낸 텍스트에 사용된 감성 표현 언어들을 '추출-범주화 및 분류-예측'의 단계를 거쳐 정량화 함</div>
<div>&nbsp;일반적으로 극성에 따라 '이분법적(긍정/부정) + 중립(선택적)' 또는 '정도를 부여해 0 ~ 10의 수치'로 나타냄.</div>
<div>&nbsp;중요 요소 : 감성 표현 (Sentimental Expression), 대상(Target), 개체(Entity), 개체 속성(Aspect), 의견보유자(Opinion holder)의 속성, 시간에 따른 추이 등.</div>
</div>
</div>
</body></html>
